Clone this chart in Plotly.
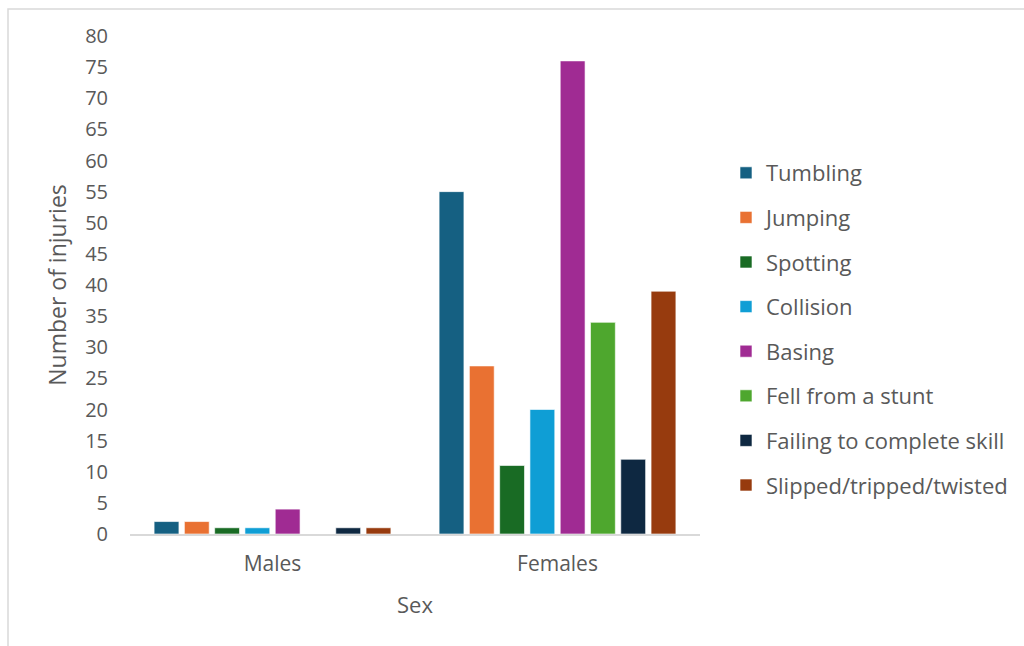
import plotly.graph_objects as go

categories = ["Males", "Females"]
series_names = ["Tumbling", "Jumping", "Spotting", "Collision", "Basing",
                "Fell from a stunt", "Failing to complete skill", "Slipped/tripped/twisted"]
values = {
    "Tumbling": [2, 55],
    "Jumping": [2, 27],
    "Spotting": [1, 11],
    "Collision": [1, 20],
    "Basing": [4, 76],
    "Fell from a stunt": [0, 34],
    "Failing to complete skill": [1, 12],
    "Slipped/tripped/twisted": [1, 39],
}
colors = ["#156082", "#E97132", "#196B24", "#0F9ED5", "#A02B93", "#4EA72E", "#0E2841", "#973B0E"]
y_ticks = list(range(0, 81, 5))

FONT = "Open Sans, Lato, sans-serif"
TXT = "#595959"

fig = go.Figure()
for name, col in zip(series_names, colors):
    fig.add_trace(go.Bar(
        x=categories, y=values[name], name=name, legendgroup=name,
        marker=dict(color=col, line=dict(color="rgba(255,255,255,0.6)", width=1)),
    ))

W, H = 1024, 646
L, R, T, B = 130, 324, 36, 112
pw, ph = W - L - R, H - T - B

def px(x):
    return (x - L) / pw

def py(y):
    return (H - B - y) / ph

fig.update_layout(
    width=W, height=H,
    margin=dict(l=L, r=R, t=T, b=B, autoexpand=False),
    paper_bgcolor="white", plot_bgcolor="white",
    barmode="group", bargap=0.15, bargroupgap=0.18,
    font=dict(family=FONT, color=TXT, size=18),
    legend=dict(
        x=px(726), xanchor="left", y=py(329), yanchor="middle",
        font=dict(size=22, color=TXT, family=FONT),
        tracegroupgap=13, traceorder="grouped",
        bgcolor="rgba(0,0,0,0)",
    ),
    xaxis=dict(
        showline=True, linecolor="#D9D9D9", linewidth=1.5,
        ticks="", showgrid=False, zeroline=False,
        tickfont=dict(size=21, color=TXT),
        ticklabelstandoff=10,
        title=dict(text="Sex", font=dict(size=22, color=TXT), standoff=22),
    ),
    yaxis=dict(
        range=[0, 80], tickvals=y_ticks, showgrid=False, zeroline=False,
        showline=False, ticks="", tickfont=dict(size=20, color=TXT),
        ticklabelstandoff=21,
        title=dict(text="Number of injuries", font=dict(size=23, color=TXT), standoff=12),
    ),
    shapes=[dict(
        type="rect", xref="paper", yref="paper",
        x0=px(8), x1=px(1040), y0=py(660), y1=py(9),
        line=dict(color="#D9D9D9", width=1.5), fillcolor="rgba(0,0,0,0)", layer="below",
    )],
)

fig.write_html("out.html")
